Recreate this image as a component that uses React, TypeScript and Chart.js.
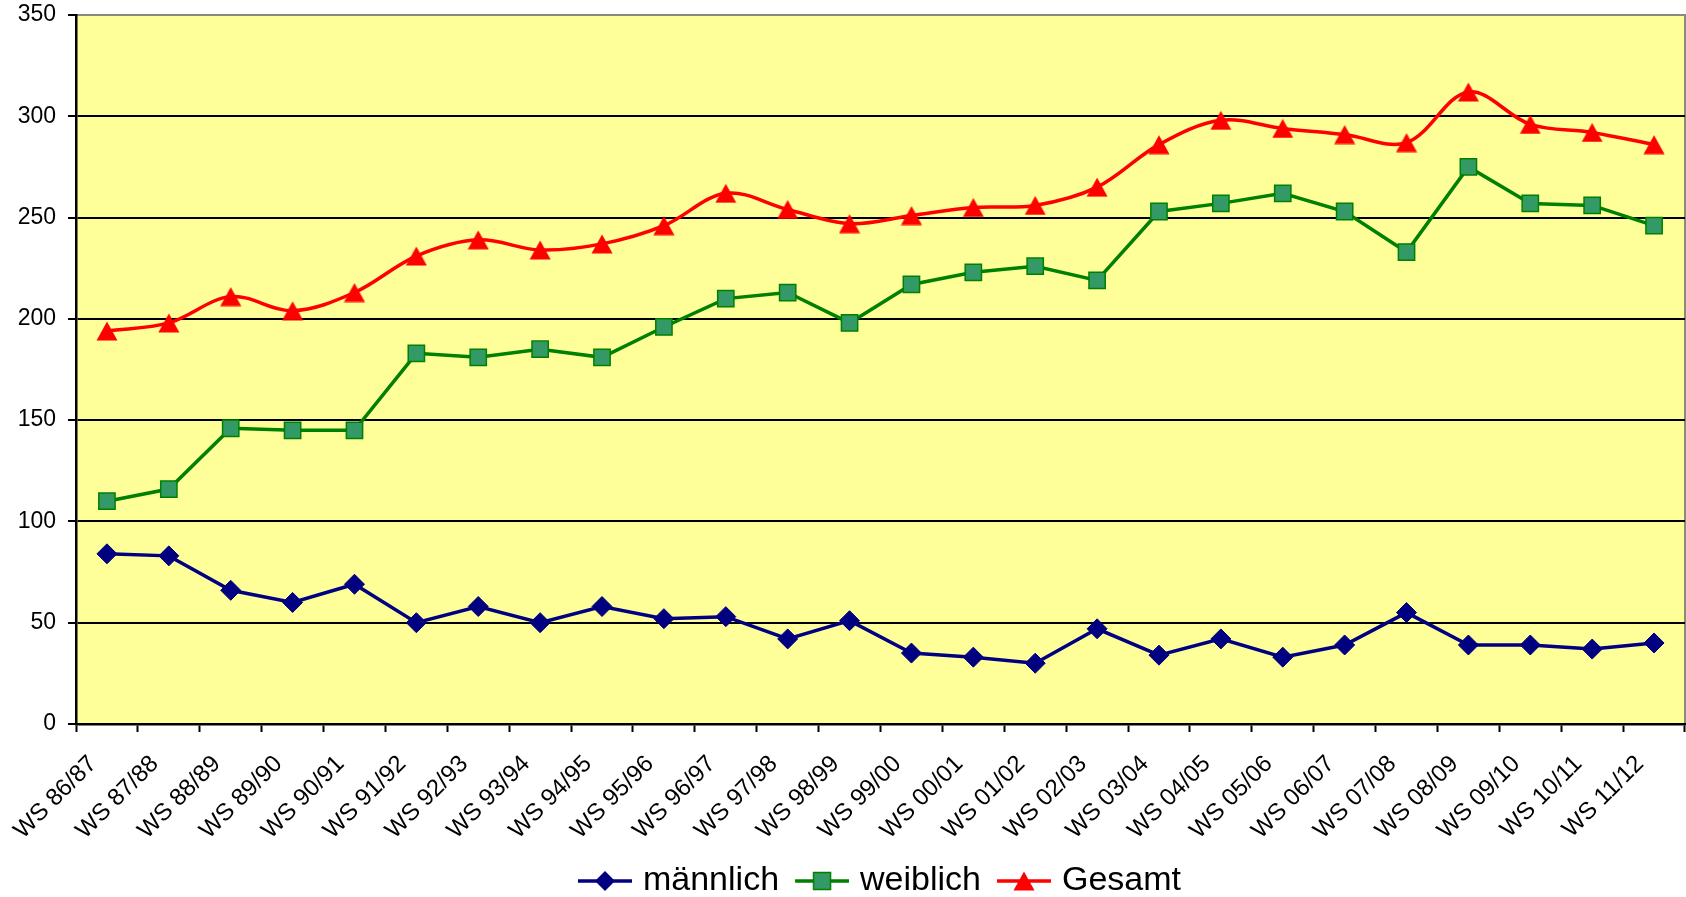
import React, { useEffect, useRef } from 'react';
import { Chart, registerables } from 'chart.js';

Chart.register(...registerables);

const categories = [
  'WS 86/87', 'WS 87/88', 'WS 88/89', 'WS 89/90', 'WS 90/91', 'WS 91/92', 'WS 92/93',
  'WS 93/94', 'WS 94/95', 'WS 95/96', 'WS 96/97', 'WS 97/98', 'WS 98/99', 'WS 99/00',
  'WS 00/01', 'WS 01/02', 'WS 02/03', 'WS 03/04', 'WS 04/05', 'WS 05/06', 'WS 06/07',
  'WS 07/08', 'WS 08/09', 'WS 09/10', 'WS 10/11', 'WS 11/12',
];

const maennlich = [84, 83, 66, 60, 69, 50, 58, 50, 58, 52, 53, 42, 51, 35, 33, 30, 47, 34, 42, 33, 39, 55, 39, 39, 37, 40];
const weiblich = [110, 116, 146, 145, 145, 183, 181, 185, 181, 196, 210, 213, 198, 217, 223, 226, 219, 253, 257, 262, 253, 233, 275, 257, 256, 246];
const gesamt = [194, 198, 211, 204, 213, 231, 239, 234, 237, 246, 262, 254, 247, 251, 255, 256, 265, 286, 298, 294, 291, 287, 312, 296, 292, 286];

const seriesNames = ['männlich', 'weiblich', 'Gesamt'];
const yMin = 0;
const yMax = 350;
const yStep = 50;

const FONT = "'Liberation Sans', Arial, sans-serif";

function drawMarker(ctx: CanvasRenderingContext2D, kind: number, cx: number, cy: number) {
  ctx.save();
  if (kind === 0) {
    const r = 10;
    ctx.beginPath();
    ctx.moveTo(cx - r, cy);
    ctx.lineTo(cx, cy - r);
    ctx.lineTo(cx + r, cy);
    ctx.lineTo(cx, cy + r);
    ctx.closePath();
    ctx.fillStyle = '#000080';
    ctx.fill();
  } else if (kind === 1) {
    const s = 8.5;
    ctx.fillStyle = '#339966';
    ctx.fillRect(cx - s, cy - s, 2 * s, 2 * s);
    ctx.strokeStyle = '#008000';
    ctx.lineWidth = 1.5;
    ctx.strokeRect(cx - s, cy - s, 2 * s, 2 * s);
  } else {
    ctx.beginPath();
    ctx.moveTo(cx, cy - 9.5);
    ctx.lineTo(cx + 10.5, cy + 9.5);
    ctx.lineTo(cx - 10.5, cy + 9.5);
    ctx.closePath();
    ctx.fillStyle = '#FF0000';
    ctx.fill();
  }
  ctx.restore();
}

function makeTriangle(): HTMLCanvasElement {
  const c = document.createElement('canvas');
  c.width = 22;
  c.height = 20;
  const ctx = c.getContext('2d')!;
  drawMarker(ctx, 2, 11, 10);
  return c;
}

const lineColors = ['#000080', '#008000', '#FF0000'];

function makeLegendIcon(kind: number): HTMLCanvasElement {
  const c = document.createElement('canvas');
  c.width = 58;
  c.height = 24;
  const ctx = c.getContext('2d')!;
  ctx.strokeStyle = lineColors[kind];
  ctx.lineWidth = 3.5;
  ctx.beginPath();
  ctx.moveTo(4, 12);
  ctx.lineTo(58, 12);
  ctx.stroke();
  drawMarker(ctx, kind, 31, 12);
  return c;
}

const bgPlugin = {
  id: 'plotBg',
  beforeDraw(chart: any) {
    const { ctx, chartArea } = chart;
    const { left, top, right, bottom } = chartArea;
    ctx.save();
    ctx.fillStyle = '#FFFF99';
    ctx.fillRect(left, top, right - left, bottom - top);
    ctx.strokeStyle = '#8a8a7a';
    ctx.lineWidth = 2;
    ctx.strokeRect(left, top, right - left, bottom - top);
    ctx.restore();
  },
};

export default function App() {
  const ref = useRef<HTMLCanvasElement>(null);

  useEffect(() => {
    document.body.style.margin = '0';
    document.body.style.overflow = 'hidden';
    const tri = makeTriangle();
    const icons = [makeLegendIcon(0), makeLegendIcon(1), makeLegendIcon(2)];

    const chart = new Chart(ref.current!, {
      type: 'line',
      data: {
        labels: categories,
        datasets: [
          {
            label: seriesNames[0],
            data: maennlich,
            borderColor: '#000080',
            borderWidth: 3.5,
            pointStyle: 'rectRot',
            pointRadius: 10,
            pointBackgroundColor: '#000080',
            pointBorderColor: '#000080',
            pointBorderWidth: 1,
            tension: 0,
            clip: false,
          },
          {
            label: seriesNames[1],
            data: weiblich,
            borderColor: '#008000',
            borderWidth: 3.5,
            pointStyle: 'rect',
            pointRadius: 11.5,
            pointBackgroundColor: '#339966',
            pointBorderColor: '#008000',
            pointBorderWidth: 1.5,
            tension: 0,
            clip: false,
          },
          {
            label: seriesNames[2],
            data: gesamt,
            borderColor: '#FF0000',
            borderWidth: 3.5,
            pointStyle: tri as any,
            pointRadius: 10,
            tension: 0.35,
            clip: false,
          },
        ],
      },
      options: {
        responsive: false,
        animation: false,
        events: [],
        devicePixelRatio: 1,
        layout: { autoPadding: false, padding: { left: 0, top: 15, right: 1, bottom: -11 } },
        plugins: {
          tooltip: { enabled: false },
          legend: {
            position: 'bottom',
            fullSize: false,
            labels: {
              usePointStyle: true,
              pointStyleWidth: 46,
              padding: 18,
              color: '#000',
              font: { family: FONT, size: 34 },
              generateLabels: (ch: any) =>
                ch.data.datasets.map((ds: any, i: number) => ({
                  text: ds.label,
                  pointStyle: icons[i],
                  datasetIndex: i,
                  hidden: false,
                  lineWidth: 0,
                  fillStyle: 'rgba(0,0,0,0)',
                  strokeStyle: 'rgba(0,0,0,0)',
                  fontColor: '#000',
                })),
            },
          },
        },
        scales: {
          x: {
            offset: true,
            ticks: {
              autoSkip: false,
              minRotation: 45,
              maxRotation: 45,
              color: '#000',
              font: { family: FONT, size: 24 },
              padding: 18,
              labelOffset: -14,
            },
            grid: {
              offset: true,
              drawOnChartArea: false,
              drawTicks: true,
              tickLength: 8,
              tickColor: '#000',
              tickWidth: 2,
            },
            border: { color: '#000', width: 2.5 },
            afterFit: (s: any) => {
              s.height = 122;
              s.paddingLeft = 0;
              s.paddingRight = 0;
            },
          },
          y: {
            min: yMin,
            max: yMax,
            ticks: {
              stepSize: yStep,
              color: '#000',
              font: { family: FONT, size: 23 },
              padding: 12,
            },
            grid: {
              color: (c: any) => (c.tick && c.tick.value === yMax ? '#8a8a7a' : '#000'),
              lineWidth: 2,
              tickLength: 8,
              tickColor: '#000',
              tickWidth: 2,
            },
            border: { color: '#000', width: 2.5 },
            afterFit: (s: any) => {
              s.width = 76;
              s.paddingTop = 0;
              s.paddingBottom = 0;
            },
          },
        },
      },
      plugins: [bgPlugin],
    });
    return () => chart.destroy();
  }, []);

  return (
    <div style={{ width: 1686, height: 897, background: '#fff' }}>
      <canvas ref={ref} width={1686} height={897} style={{ display: 'block' }} />
    </div>
  );
}
